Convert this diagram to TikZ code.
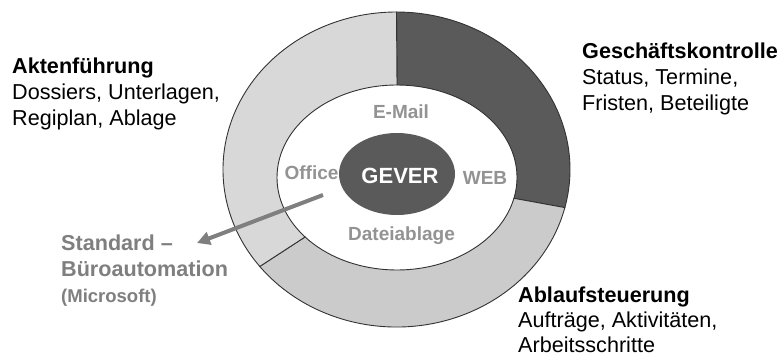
\documentclass[tikz,border=0pt]{standalone}
\usepackage{fontspec}
\setmainfont{Liberation Sans}
\usetikzlibrary{arrows.meta,calc,shapes.geometric}
\definecolor{segdark}{HTML}{5A5A5A}
\definecolor{seglight}{HTML}{D8D8D8}
\definecolor{segmid}{HTML}{CBCBCB}
\definecolor{rimline}{HTML}{333333}
\definecolor{innertext}{HTML}{939393}
\definecolor{stdgray}{HTML}{7F7F7F}
\tikzset{
  segment/.style={draw=rimline, line width=0.9pt},
  inlabel/.style={font=\fontsize{19}{22}\selectfont\bfseries, text=innertext, inner sep=0pt, anchor=base},
  block/.style={align=left, inner sep=0pt, anchor=north west, font=\fontsize{21.6}{26}\selectfont},
}
\begin{document}
\begin{tikzpicture}[x=1pt,y=1pt]
\useasboundingbox (0,0) rectangle (780,360);
\fill[white] (0,0) rectangle (780,360);

% ellipse centres and radii
\coordinate (O) at (396.5,190.5);  % outer ring
\coordinate (I) at (397,182.5);    % inner hole
\def\orx{173.5}\def\ory{157.5}
\def\irx{120}\def\iry{92.5}

% Geschaeftskontrolle segment
\path[segment, fill=segdark]
  ($(O)+(90:\orx pt and \ory pt)$) arc[start angle=90, end angle=-14, x radius=\orx, y radius=\ory]
  -- ($(I)+(-13:\irx pt and \iry pt)$) arc[start angle=-13, end angle=90, x radius=\irx, y radius=\iry]
  -- cycle;
% Ablaufsteuerung segment
\path[segment, fill=segmid]
  ($(O)+(346:\orx pt and \ory pt)$) arc[start angle=346, end angle=218, x radius=\orx, y radius=\ory]
  -- ($(I)+(220:\irx pt and \iry pt)$) arc[start angle=220, end angle=347, x radius=\irx, y radius=\iry]
  -- cycle;
% Aktenfuehrung segment
\path[segment, fill=seglight]
  ($(O)+(218:\orx pt and \ory pt)$) arc[start angle=218, end angle=90, x radius=\orx, y radius=\ory]
  -- ($(I)+(90:\irx pt and \iry pt)$) arc[start angle=90, end angle=220, x radius=\irx, y radius=\iry]
  -- cycle;

% labels inside the ring
\node[inlabel] (mail) at (401,242) {E-Mail};
\node[inlabel] (office) at (311.5,181) {Office};
\node[inlabel] (web) at (485,176) {WEB};
\node[inlabel] (ablage) at (401.5,119.5) {Dateiablage};

% core
\node[ellipse, fill=segdark, minimum width=116pt, minimum height=82pt, inner sep=0pt] (core) at (397,186) {};
\node[font=\fontsize{22}{24}\selectfont\bfseries, text=white, inner sep=0pt, anchor=base] (gever) at (400,177) {GEVER};

% arrow towards office automation
\coordinate (arrfrom) at (323,165);
\coordinate (arrto) at (197,117);
\draw[stdgray, line width=4pt, -{Triangle[length=13pt,width=13pt]}] (arrfrom) -- (arrto);

% outer descriptions
\node[block] (akten) at (12,302.5) {\textbf{Aktenführung}\\Dossiers, Unterlagen,\\Regiplan, Ablage};
\node[block] (gesch) at (582,317) {\textbf{Geschäftskontrolle}\\Status, Termine,\\Fristen, Beteiligte};
\node[block, font=\fontsize{21.6}{25}\selectfont] (ablauf) at (518,73) {\textbf{Ablaufsteuerung}\\Aufträge, Aktivitäten,\\Arbeitsschritte};
\node[block, text=stdgray, font=\fontsize{21.6}{26}\selectfont\bfseries] (std) at (61,125.5)
  {Standard –\\Büroautomation\\{\fontsize{18.5}{22}\selectfont (Microsoft)}};
\end{tikzpicture}
\end{document}
